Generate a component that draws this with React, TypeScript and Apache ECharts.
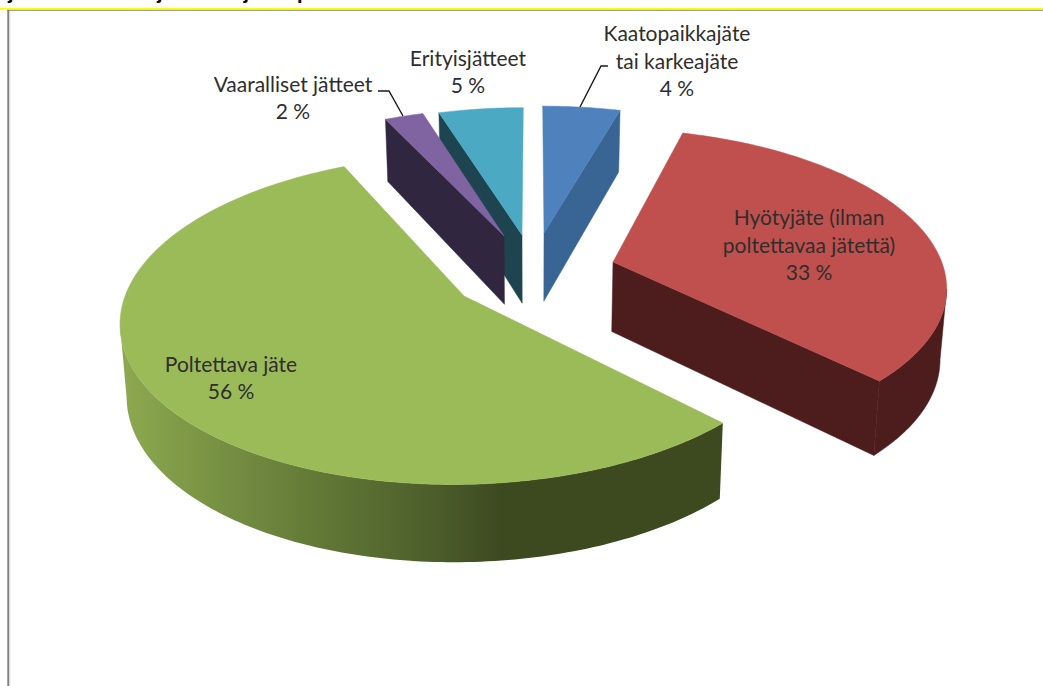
import React, { useEffect, useRef } from "react";
import * as echarts from "echarts";

// Data, clockwise from 12 o'clock
const categories = ["Kaatopaikkajäte\ntai karkeajäte", "Hyötyjäte (ilman\npoltettavaa jätettä)", "Poltettava jäte", "Vaaralliset jätteet", "Erityisjätteet"];
const shareValues = [4.4, 33.1, 55.5, 2.2, 4.8];
const shareLabels = ["4 %", "33 %", "56 %", "2 %", "5 %"];
const clippedTitle = "jätteitä eroteltu jätteen lajittelupaikka";

// Styling
const topColors = ["#4F81BD", "#C0504D", "#9BBB59", "#8064A2", "#4BA9C4"];
const wallColors = ["#386594", "#4C1D1C", "#3D4A20", "#31263F", "#1D444F"];
const drawOrder = [1, 1, 1, 3, 2];

// Projection: plane (x, y) -> screen, perspective along y
const CX = 533, CY = 273, SCALE_X = 332, SCALE_Y = 155, PERSP = 0.14;
const explodeVectors = [[11, -40], [80, -11], [-69, 23], [-29, -37], [-11, -38]];

const project = (x: number, y: number) => {
  const w = 1 + PERSP * y;
  return [CX + (SCALE_X * x) / w, CY - (SCALE_Y * y) / w];
};
const unproject = (sx: number, sy: number) => {
  const f = CY - sy;
  const y = f / (SCALE_Y - PERSP * f);
  return [((sx - CX) * (1 + PERSP * y)) / SCALE_X, y];
};
const lower = (p: number[], planeY: number) => [CX + (p[0] - CX) * 0.984, p[1] + 70 - 6.8 * planeY];

const renderSlice = (params: any, api: any) => {
  const i = params.dataIndex;
  const total = shareValues.reduce((a, b) => a + b, 0);
  let before = 0;
  for (let k = 0; k < i; k++) before += shareValues[k];
  const th1 = (before / total) * 2 * Math.PI;
  const th2 = ((before + api.value(0)) / total) * 2 * Math.PI;
  const [ex, ey] = explodeVectors[i];
  const apexPlane = unproject(CX + ex, CY + ey);
  const at = (th: number) => {
    const y = apexPlane[1] + Math.cos(th);
    return { p: project(apexPlane[0] + Math.sin(th), y), y };
  };
  const apexTop = project(apexPlane[0], apexPlane[1]);
  const apexLow = lower(apexTop, apexPlane[1]);
  const steps = Math.max(4, Math.round(((th2 - th1) * 180) / Math.PI));
  const arc: { p: number[]; y: number }[] = [];
  for (let s = 0; s <= steps; s++) arc.push(at(th1 + ((th2 - th1) * s) / steps));

  const z2 = drawOrder[i] * 10;
  const poly = (points: number[][], fill: any, dz: number) => ({
    type: "polygon",
    z2: z2 + dz,
    shape: { points },
    style: { fill, stroke: typeof fill === "string" ? fill : undefined, lineWidth: typeof fill === "string" ? 0.5 : 0 },
  });
  const children: any[] = [];
  const wallFill =
    i === 2
      ? new echarts.graphic.LinearGradient(0, 0, 1, 0, [
          { offset: 0, color: "#8EAA4F" },
          { offset: 0.14, color: "#7A9445" },
          { offset: 0.355, color: "#5F7535" },
          { offset: 0.52, color: "#4C5E2B" },
          { offset: 0.63, color: "#3D4A20" },
          { offset: 1, color: "#3D4A20" },
        ])
      : wallColors[i];

  const radialWall = (end: { p: number[]; y: number }) =>
    poly([apexTop, end.p, lower(end.p, end.y), apexLow], wallColors[i], 0);
  if (Math.sin(th1) < -1e-6) children.push(radialWall(arc[0]));
  if (Math.sin(th2) > 1e-6) children.push(radialWall(arc[arc.length - 1]));

  const visible = arc.filter((a, s) => {
    const next = arc[s + 1] || a;
    const prev = arc[s - 1] || a;
    return next.p[0] < prev.p[0];
  });
  if (visible.length > 1) {
    const upper = visible.map((a) => a.p);
    const below = visible.map((a) => lower(a.p, a.y)).reverse();
    children.push(poly(upper.concat(below), wallFill, 1));
  }
  children.push(poly([apexTop, ...arc.map((a) => a.p)], topColors[i], 2));
  return { type: "group", children };
};

const labelAnchors = [[677, 60], [809, 244], [231, 377], [293, 97], [468, 71]];
const leaderLines = [
  [[608, 66], [601, 66], [580, 107]],
  [[378, 91], [389, 91], [403, 116]],
];

export default function App() {
  const ref = useRef<HTMLDivElement>(null);
  useEffect(() => {
    const chart = echarts.init(ref.current!, null, { renderer: "svg" });
    chart.setOption({
      animation: false,
      backgroundColor: "#ffffff",
      xAxis: { show: false },
      yAxis: { show: false },
      graphic: [
        { type: "text", z: 1, x: 8, y: -18, style: { text: clippedTitle, font: "bold 20px 'Liberation Sans'", fill: "#000000" } },
        { type: "rect", z: 2, shape: { x: 0, y: 8, width: 1043, height: 1.7 }, style: { fill: "#FFFF00" } },
        { type: "rect", z: 2, shape: { x: 7, y: 9.7, width: 1036, height: 1.3 }, style: { fill: "#A0A0A0" } },
        { type: "rect", z: 2, shape: { x: 7.3, y: 10, width: 2, height: 676 }, style: { fill: "#808080" } },
        { type: "rect", z: 2, shape: { x: 9.3, y: 11, width: 1, height: 675 }, style: { fill: "#DDDDDD" } },
        ...leaderLines.map((points) => ({
          type: "polyline",
          z: 20,
          shape: { points },
          style: { stroke: "#1a1a1a", lineWidth: 1.4, fill: "none" },
        })),
        ...categories.map((name, i) => ({
          type: "text",
          z: 30,
          x: labelAnchors[i][0],
          y: labelAnchors[i][1],
          style: {
            text: name + "\n" + shareLabels[i],
            font: "21px Lato",
            lineHeight: 27.5,
            align: "center",
            verticalAlign: "middle",
            fill: "#2e2e2e",
          },
        })),
      ],
      series: [
        {
          type: "custom",
          coordinateSystem: "none",
          silent: true,
          renderItem: renderSlice,
          data: shareValues.map((v) => [v]),
        },
      ],
    });
    return () => chart.dispose();
  }, []);
  return <div ref={ref} style={{ position: "fixed", left: 0, top: 0, width: 1043, height: 686 }} />;
}
